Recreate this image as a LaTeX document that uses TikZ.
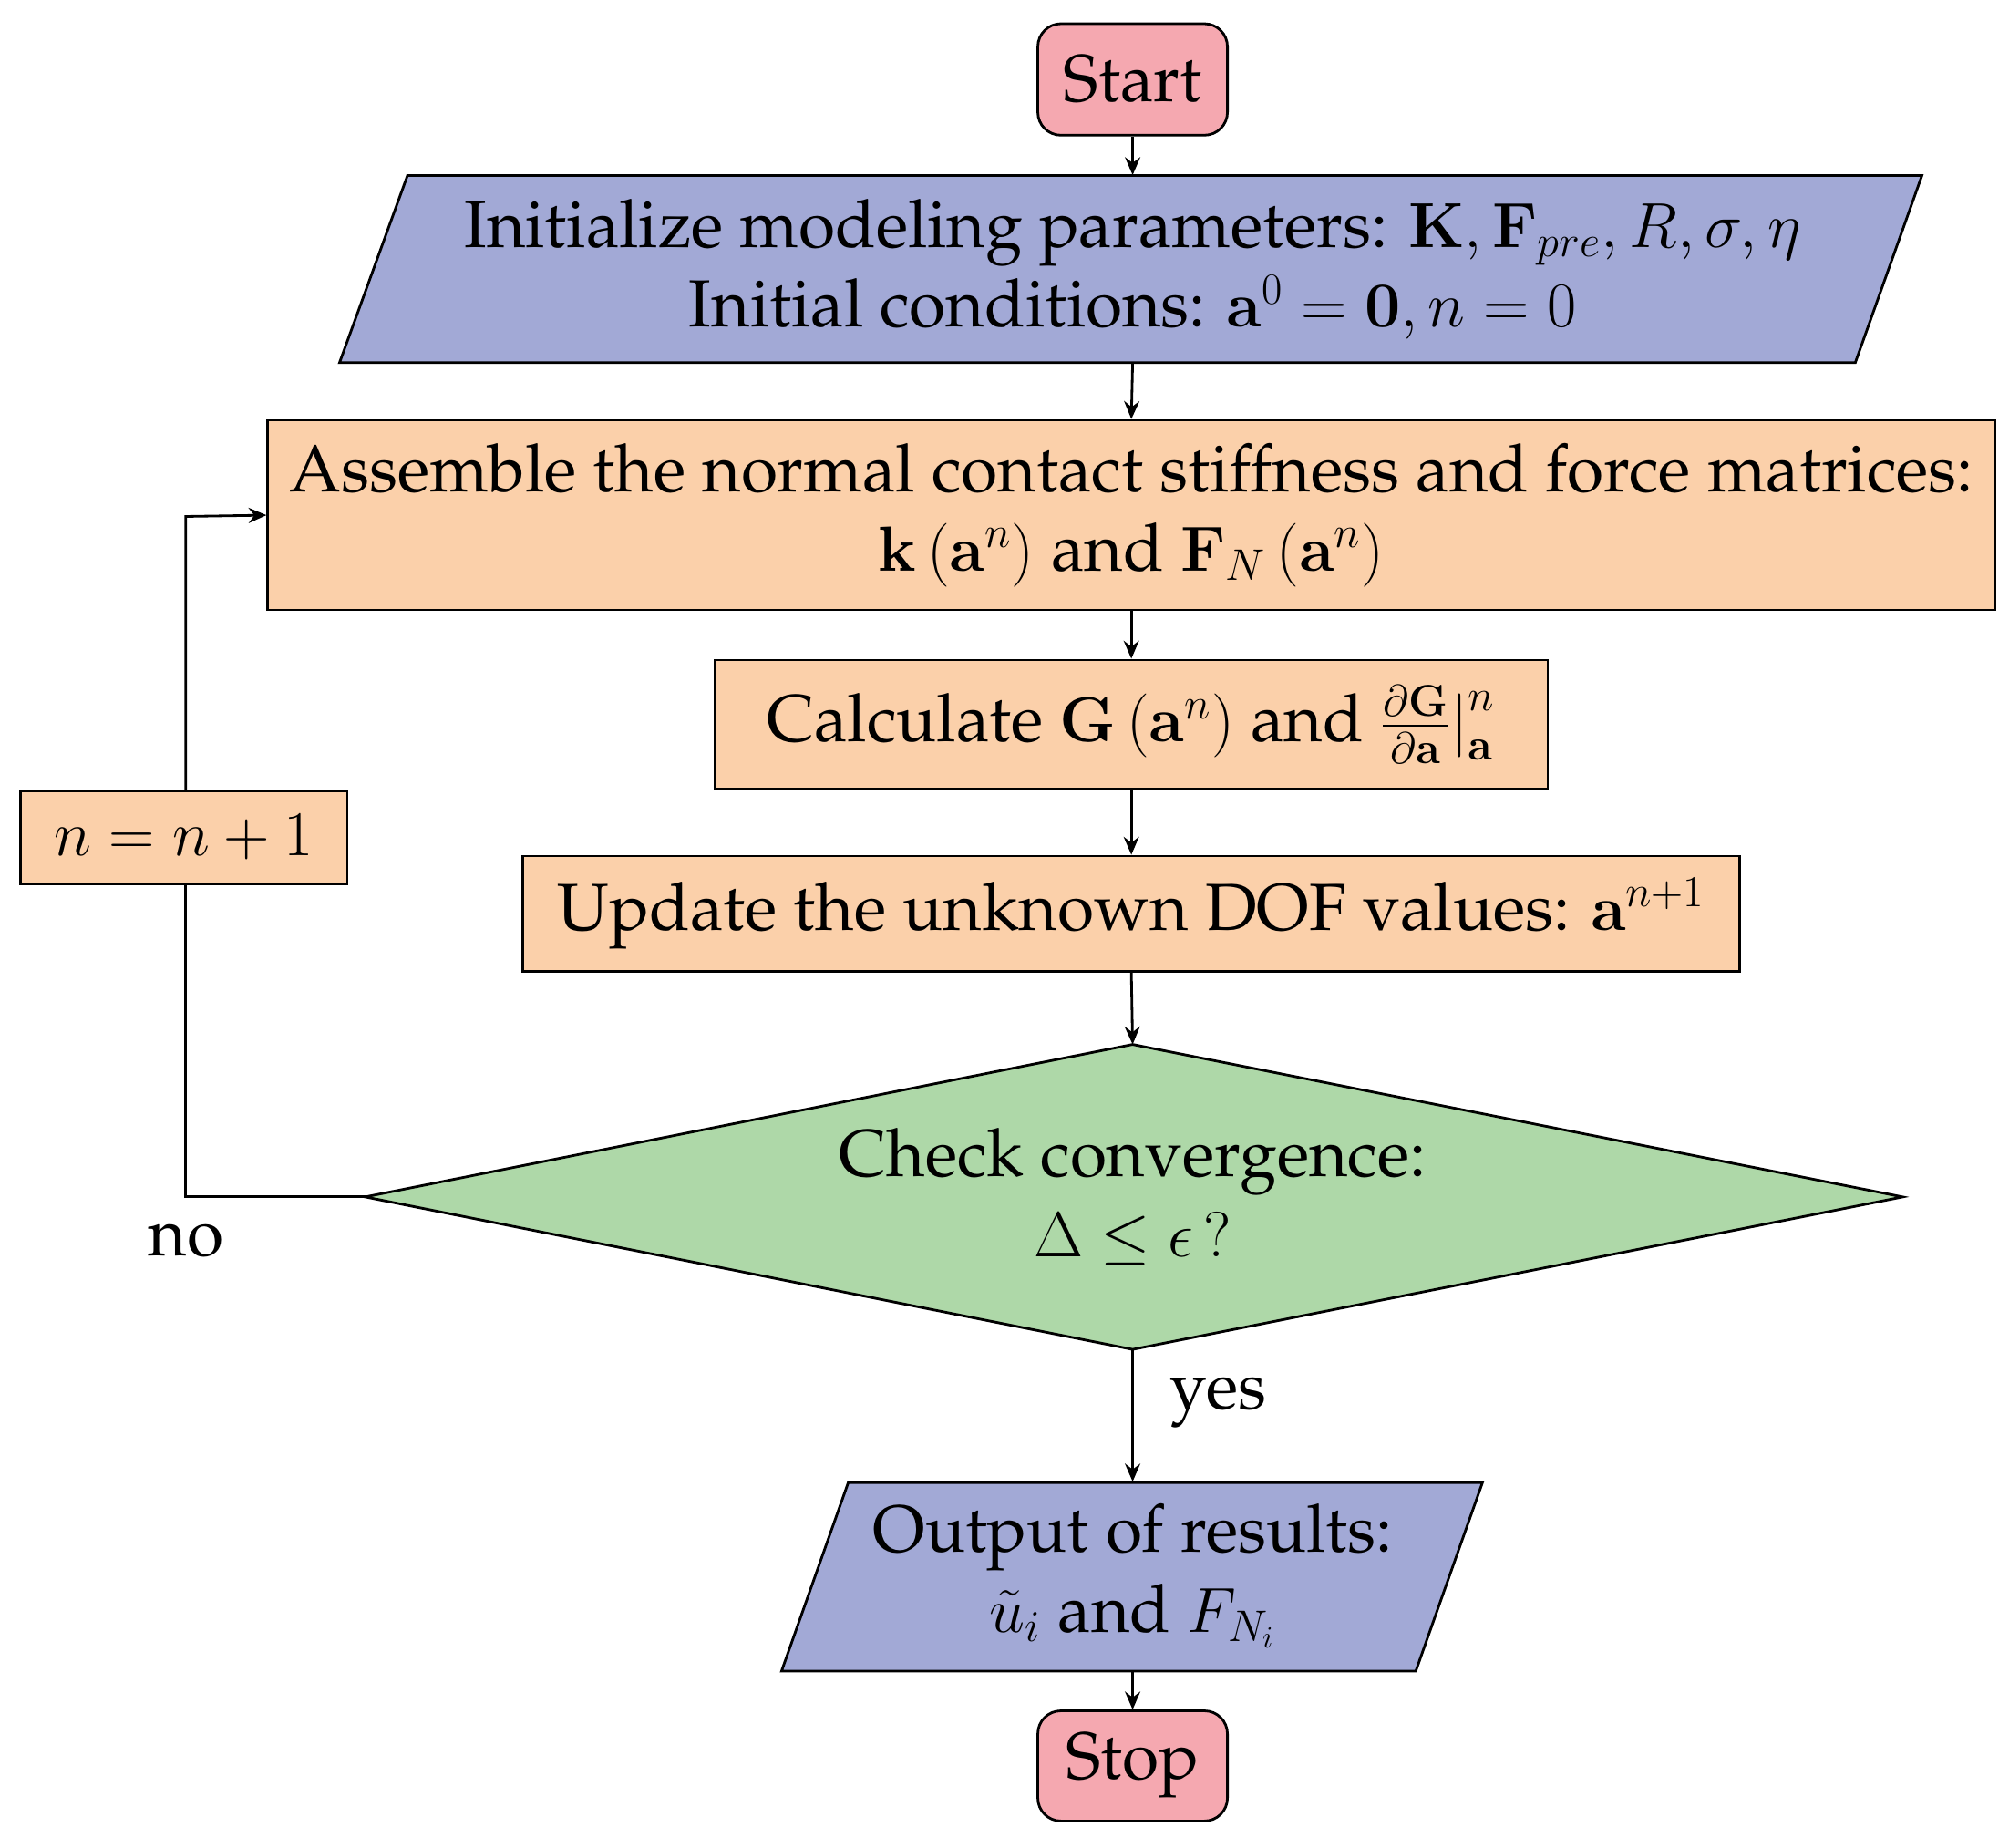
\documentclass[tikz,border=0pt]{standalone}
\usepackage[T1]{fontenc}
\renewcommand{\rmdefault}{ppl}
\usetikzlibrary{arrows.meta}
\definecolor{pinkc}{HTML}{F5A8B0}
\definecolor{bluec}{HTML}{A2A9D6}
\definecolor{orc}{HTML}{FBD0AA}
\definecolor{grc}{HTML}{AED8A8}
\begin{document}
\begin{tikzpicture}[x=0.5pt,y=-0.5pt,
  every node/.style={font=\fontsize{26}{31}\selectfont, align=center, inner sep=0pt},
  box/.style={draw, line width=1pt, fill=orc},
  term/.style={draw, line width=1pt, fill=pinkc, rounded corners=9pt},
  poly/.style={draw, line width=1pt},
  arr/.style={-{Stealth[length=7pt,width=6pt]}, line width=1pt}]
\useasboundingbox (0,0) rectangle (1568,1442);
% Start
\node[term, minimum width=74pt, minimum height=43.5pt] (start) at (884,62) {Start};
% Initialize
\filldraw[poly, fill=bluec] (318,137) -- (1500,137) -- (1448,283) -- (265,283) -- cycle;
\node[minimum width=591pt, minimum height=73pt] (init) at (884,210)
 {Initialize modeling parameters: $\mathbf{K}, \mathbf{F}_{pre}, R, \sigma, \eta$\\
  Initial conditions: $\mathbf{a}^0=\mathbf{0}, n=0$};
% Assemble
\node[box, minimum width=674pt, minimum height=74pt] (asm) at (883,402)
 {Assemble the normal contact stiffness and force matrices:\\
  $\mathbf{k}\left(\mathbf{a}^n\right)$ and $\mathbf{F}_N\left(\mathbf{a}^n\right)$};
% Calculate
\node[box, minimum width=325pt, minimum height=50.5pt] (calc) at (883,565.5)
 {Calculate $\mathbf{G}\left(\mathbf{a}^n\right)$ and $\frac{\partial \mathbf{G}}{\partial \mathbf{a}}\Big|_{\mathbf{a}}^{n}$};
% Update
\node[box, minimum width=475pt, minimum height=45pt] (upd) at (883,713)
 {Update the unknown DOF values: $\mathbf{a}^{n+1}$};
% Diamond
\filldraw[poly, fill=grc] (285,934) -- (884,815) -- (1485,934) -- (884,1053) -- cycle;
\node[minimum width=600pt, minimum height=119pt] (chk) at (884,934)
 {Check convergence:\\ $\Delta \le \epsilon\,?$};
\coordinate (dl) at (285,934);
\coordinate (dt) at (884,815);
\coordinate (db) at (884,1053);
% Output
\filldraw[poly, fill=bluec] (662,1157) -- (1157,1157) -- (1105,1304) -- (610,1304) -- cycle;
\node[minimum width=247pt, minimum height=73.5pt] (out) at (884,1230)
 {Output of results:\\ $\tilde{u}_i$ and $F_{N_i}$};
% Stop
\node[term, minimum width=74pt, minimum height=43pt] (stop) at (884,1378) {Stop};
% n=n+1
\node[box, minimum width=127.5pt, minimum height=36.5pt] (inc) at (143.5,653.5) {$n=n+1$};
% arrows
\draw[arr] (start.south) -- (init.north);
\draw[arr] (init.south) -- (asm.north);
\draw[arr] (asm.south) -- (calc.north);
\draw[arr] (calc.south) -- (upd.north);
\draw[arr] (upd.south) -- (dt);
\draw[arr] (db) -- node[right=14pt, pos=0.4]{yes} (out.north);
\draw[arr] (out.south) -- (stop.north);
\draw[line width=1pt] (dl) -- (145,934) node[below=10pt]{no} -- (145,690);
\draw[arr] (145,617) -- (145,403) -- (asm.west);
\end{tikzpicture}
\end{document}
